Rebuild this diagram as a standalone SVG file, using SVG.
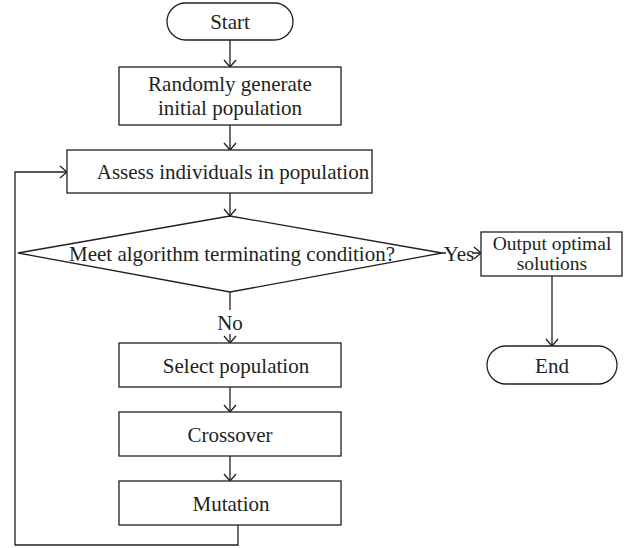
<svg xmlns="http://www.w3.org/2000/svg" width="626" height="548" viewBox="0 0 626 548">
<style>
.s{fill:#fff;stroke:#231f20;stroke-width:1.3}
.c{fill:none;stroke:#231f20;stroke-width:1.3}
text{font-family:"Liberation Serif","Times New Roman",serif;font-size:21px;fill:#231f20;text-anchor:middle}
.o{font-size:19.5px}
</style>
<defs>
<marker id="a" markerUnits="userSpaceOnUse" markerWidth="14" markerHeight="14" refX="0" refY="0" viewBox="-8 -7 10 14" orient="auto">
<path d="M-7,-6 L0,0 L-7,6" fill="none" stroke="#231f20" stroke-width="1.3"/>
</marker>
</defs>
<rect width="626" height="548" fill="#fff"/>
<g id="connectors">
<path class="c" d="M230,40 V67" marker-end="url(#a)"/>
<path class="c" d="M230,125 V150" marker-end="url(#a)"/>
<path class="c" d="M230,193 V216" marker-end="url(#a)"/>
<path class="c" d="M230,292 V310"/>
<path class="c" d="M230,334 V343" marker-end="url(#a)"/>
<path class="c" d="M230,387 V412" marker-end="url(#a)"/>
<path class="c" d="M230,456 V481" marker-end="url(#a)"/>
<path class="c" d="M238,525 V545 H15 V172 H67" marker-end="url(#a)"/>
<path class="c" d="M442,253 H481" marker-end="url(#a)"/>
<path class="c" d="M552,276 V346" marker-end="url(#a)"/>
<text x="230" y="330">No</text>
<rect x="446" y="244" width="26" height="18" fill="#fff"/>
<text x="459" y="261">Yes</text>
</g>
<g id="start">
<rect class="s" x="167" y="3" width="126" height="37" rx="18.5"/>
<text x="230" y="29">Start</text>
</g>
<g id="generate">
<rect class="s" x="119" y="67" width="222" height="58"/>
<text x="230" y="91">Randomly generate</text>
<text x="230" y="115">initial population</text>
</g>
<g id="assess">
<rect class="s" x="67" y="150" width="305" height="43"/>
<text x="233" y="179">Assess individuals in population</text>
</g>
<g id="condition">
<polygon class="s" points="230,216 442,253 230,292 18,253"/>
<text x="232" y="261">Meet algorithm terminating condition?</text>
</g>
<g id="select">
<rect class="s" x="119" y="343" width="222" height="44"/>
<text x="236" y="373">Select population</text>
</g>
<g id="crossover">
<rect class="s" x="119" y="412" width="222" height="44"/>
<text x="230" y="442">Crossover</text>
</g>
<g id="mutation">
<rect class="s" x="119" y="481" width="222" height="44"/>
<text x="231" y="511">Mutation</text>
</g>
<g id="output">
<rect class="s" x="481" y="232" width="141" height="44"/>
<text class="o" x="552" y="250">Output optimal</text>
<text class="o" x="552" y="270">solutions</text>
</g>
<g id="end">
<rect class="s" x="487" y="346" width="130" height="38" rx="19"/>
<text x="552" y="373">End</text>
</g>
</svg>
